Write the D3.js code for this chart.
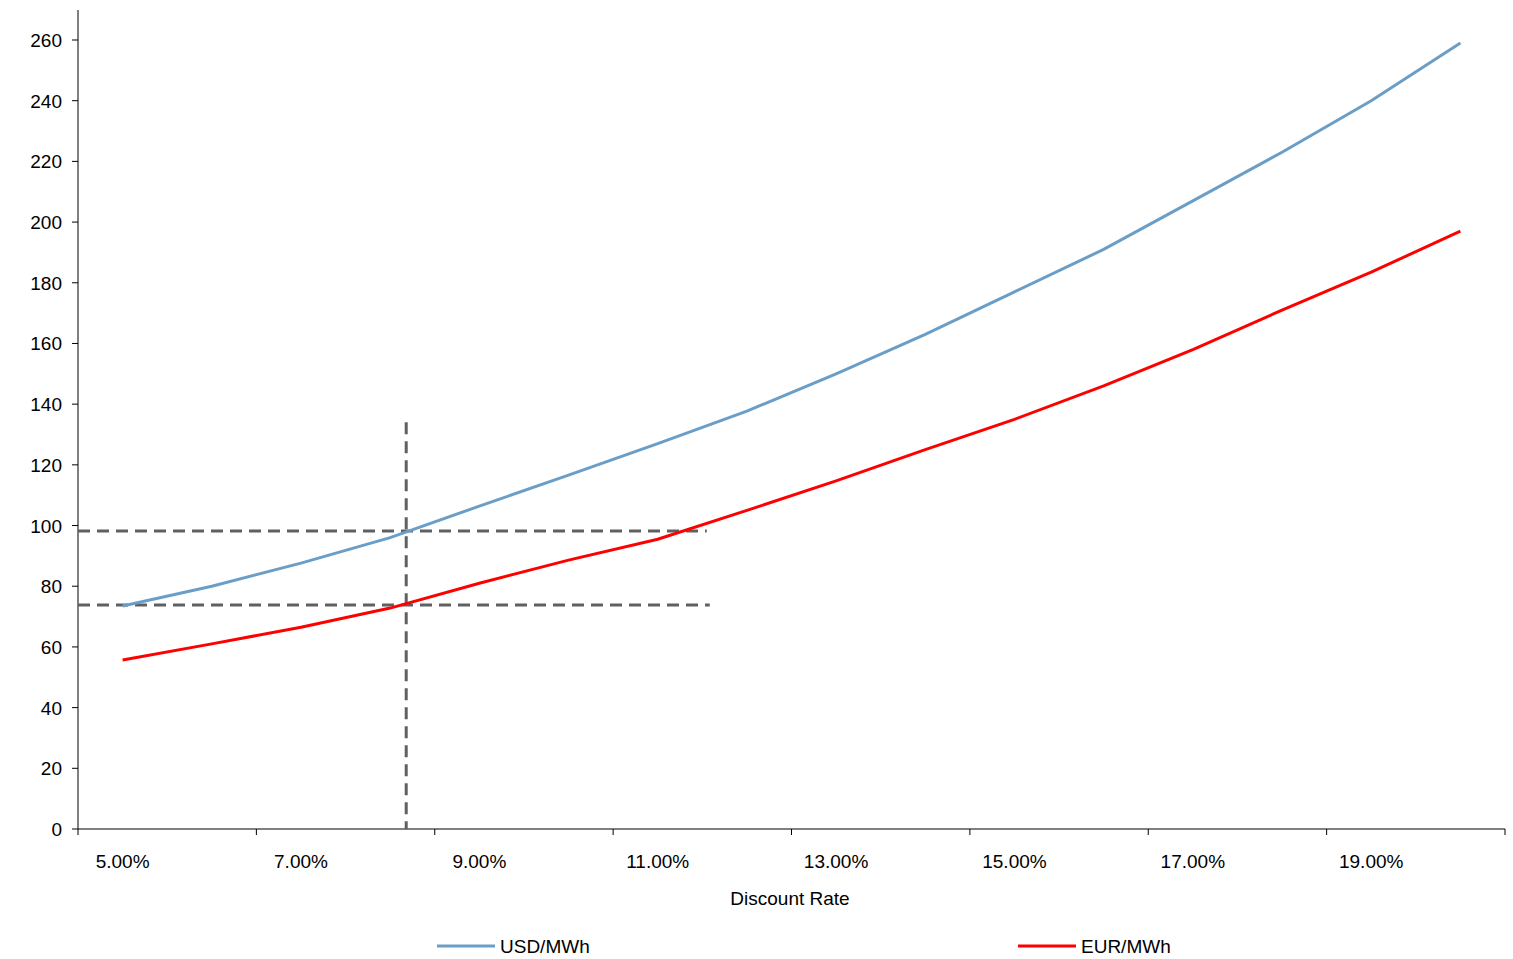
<!DOCTYPE html>
<html><head><meta charset="utf-8">
<script src="https://cdn.jsdelivr.net/npm/d3@7"></script>
<style>body{margin:0;background:#fff}text{font-family:"Liberation Sans",Arial,sans-serif}</style>
</head><body><svg id="c"></svg>
<script>
const rates = [5,6,7,8,9,10,11,12,13,14,15,16,17,18,19,20];
const usd = [73.5,80,87.6,96,106.4,116.6,127,137.7,150,163,177,191,207,223,240,259];
const eur = [55.7,61,66.5,72.8,81,88.6,95.5,105,114.7,125,135,146,158,171,183.5,197];
const yTicks = [0,20,40,60,80,100,120,140,160,180,200,220,240,260];
const refRate = 8.18, refUsd = 98.2, refEur = 73.8, refTop = 134, refEnd = 11.55;

const svg = d3.select("#c").attr("width",1513).attr("height",959);
const mLeft = 78, mRight = 1505, mTop = 40, mBottom = 829;
const band = (mRight-mLeft)/rates.length;
// category centre position for a (possibly fractional) rate
const x = r => mLeft + (r - rates[0] + 0.5)*band;
const y = d3.scaleLinear().domain([0,260]).range([mBottom,mTop]);

// axes
svg.append("line").attr("x1",mLeft).attr("x2",mLeft).attr("y1",10).attr("y2",mBottom).attr("stroke","#000");
svg.append("line").attr("x1",mLeft).attr("x2",mRight).attr("y1",mBottom).attr("y2",mBottom).attr("stroke","#000");
svg.selectAll(".yt").data(yTicks).join("line").attr("x1",mLeft-6).attr("x2",mLeft)
  .attr("y1",d=>y(d)).attr("y2",d=>y(d)).attr("stroke","#000");
svg.selectAll(".yl").data(yTicks).join("text").attr("x",mLeft-16).attr("y",d=>y(d)+7)
  .attr("text-anchor","end").attr("font-size",19).text(d=>d);
const xt = d3.range(0,rates.length+1,2);
svg.selectAll(".xt").data(xt).join("line").attr("x1",d=>mLeft+d*band).attr("x2",d=>mLeft+d*band)
  .attr("y1",mBottom).attr("y2",mBottom+6).attr("stroke","#000");
svg.selectAll(".xl").data(rates.filter((r,i)=>i%2==0)).join("text").attr("x",d=>x(d)).attr("y",868)
  .attr("text-anchor","middle").attr("font-size",19).text(d=>d.toFixed(2)+"%");
svg.append("text").attr("x",790).attr("y",905).attr("text-anchor","middle").attr("font-size",19).text("Discount Rate");

// reference lines
const dash = {stroke:"#606060","stroke-width":3,"stroke-dasharray":"12,7"};
function dl(x1,y1,x2,y2){const l=svg.append("line").attr("x1",x1).attr("y1",y1).attr("x2",x2).attr("y2",y2);for(const k in dash)l.attr(k,dash[k]);}
dl(x(refRate),y(refTop),x(refRate),mBottom);
dl(mLeft,y(refUsd),x(refEnd),y(refUsd));
dl(mLeft,y(refEur),x(refEnd)+3,y(refEur));

// series
const line = d3.line().x((d,i)=>x(rates[i])).y(d=>y(d));
svg.append("path").attr("d",line(usd)).attr("fill","none").attr("stroke","#6a9ec7").attr("stroke-width",3);
svg.append("path").attr("d",line(eur)).attr("fill","none").attr("stroke","#ff0000").attr("stroke-width",3);

// legend
[["USD/MWh","#6a9ec7",437],["EUR/MWh","#ff0000",1018]].forEach(([t,c,lx])=>{
  svg.append("line").attr("x1",lx).attr("x2",lx+58).attr("y1",946).attr("y2",946).attr("stroke",c).attr("stroke-width",3);
  svg.append("text").attr("x",lx+63).attr("y",953).attr("font-size",19).text(t);
});
</script></body></html>
